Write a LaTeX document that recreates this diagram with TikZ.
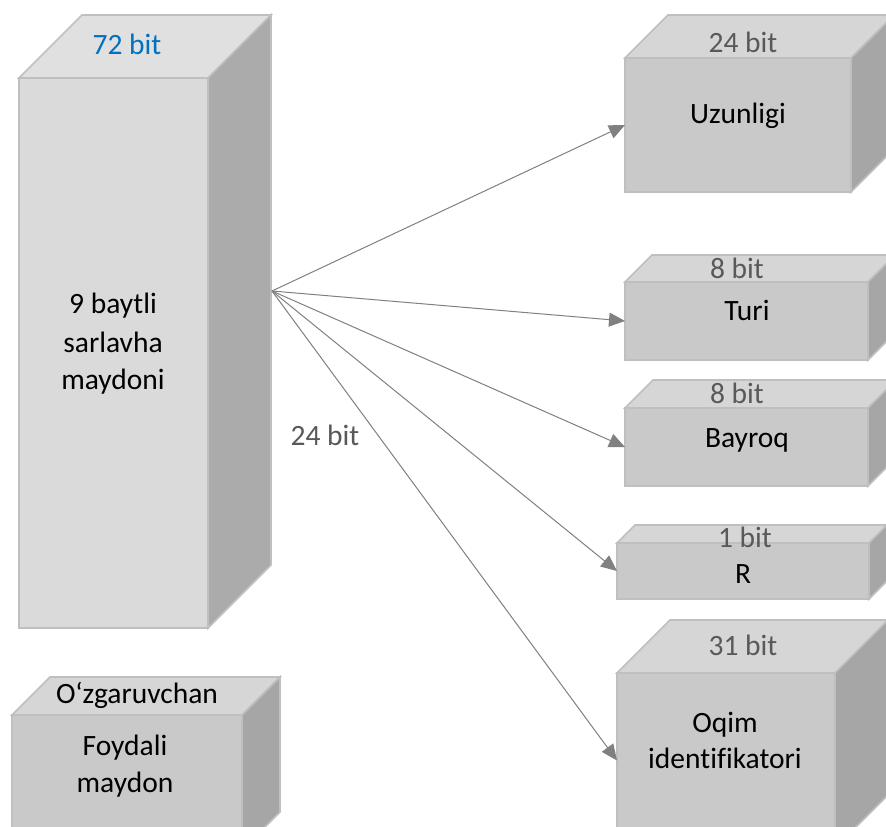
\documentclass[tikz,border=0pt]{standalone}
\usepackage{fontspec}
\setmainfont{Carlito}[Ligatures={NoCommon}]
\usetikzlibrary{arrows.meta}
\definecolor{edgec}{HTML}{BFBFBF}
\definecolor{bigfront}{HTML}{DADADA}
\definecolor{bigtop}{HTML}{E0E0E0}
\definecolor{bigside}{HTML}{ABABAB}
\definecolor{smfront}{HTML}{C9C9C9}
\definecolor{smtop}{HTML}{D6D6D6}
\definecolor{smside}{HTML}{A6A6A6}
\definecolor{bitgray}{HTML}{595959}
\definecolor{bitblue}{HTML}{0070C0}
\definecolor{arrowc}{HTML}{808080}
\tikzset{
  edge/.style={draw=edgec, line width=1.6pt, line join=miter},
  txt/.style={anchor=base, inner sep=0pt, font=\fontsize{29.5}{34}\selectfont, text=black},
  bitlbl/.style={txt, text=bitgray},
  conn/.style={draw=arrowc, line width=1pt, -{Triangle[length=16pt,width=14pt]}}
}
% name, x1, y1, x2, y2, depth, front, top, side
\newcommand\mycube[9]{%
  \path[edge, fill=#8] (#2,#3) -- ({#2+#6},{#3-#6}) -- ({#4+#6},{#3-#6}) -- (#4,#3) -- cycle;
  \path[edge, fill=#9] (#4,#3) -- ({#4+#6},{#3-#6}) -- ({#4+#6},{#5-#6}) -- (#4,#5) -- cycle;
  \node[edge, fill=#7, anchor=north west, inner sep=0pt, outer sep=0pt,
        minimum width={#4-#2}, minimum height={#5-#3}] (#1) at (#2,#3) {};
}
\begin{document}
\begin{tikzpicture}[x=1pt,y=-1pt]
\path[use as bounding box] (0,0) rectangle (886,827);
\clip (0,0) rectangle (886,827);
\fill[white] (0,0) rectangle (886,827);

\mycube{big}{19}{78}{208}{628}{63}{bigfront}{bigtop}{bigside}
\mycube{uz}{625}{58}{851}{192}{43}{smfront}{smtop}{smside}
\mycube{turi}{625}{282}{868}{360}{27}{smfront}{smtop}{smside}
\mycube{bay}{625}{408}{868}{486}{28}{smfront}{smtop}{smside}
\mycube{r}{617}{543}{869}{599}{18}{smfront}{smtop}{smside}
\mycube{oqim}{617}{673}{835}{848}{53}{smfront}{smtop}{smside}
\mycube{foy}{12}{715}{242}{850}{38}{smfront}{smtop}{smside}

% texts
\node[txt, text=bitblue] (t72) at (127,54) {72 bit};
\node[txt] (tb1) at (113,313) {9 baytli};
\node[txt] (tb2) at (113,352) {sarlavha};
\node[txt] (tb3) at (113,389) {maydoni};
\node[bitlbl] (t24a) at (325,445) {24 bit};

\node[bitlbl] (t24) at (743,52) {24 bit};
\node[txt] (tuz) at (738,123) {Uzunligi};
\node[bitlbl] (t8a) at (737,278) {8 bit};
\node[txt] (tturi) at (747,320) {Turi};
\node[bitlbl] (t8b) at (737,403) {8 bit};
\node[txt] (tbay) at (747,447) {Bayroq};
\node[bitlbl] (t1) at (745,547) {1 bit};
\node[txt] (tr) at (743,583) {R};
\node[bitlbl] (t31) at (743,655) {31 bit};
\node[txt] (toq1) at (725,732) {Oqim};
\node[txt] (toq2) at (725,768) {identifikatori};
\node[txt] (tozg) at (137,703) {O‘zgaruvchan};
\node[txt] (tfoy1) at (125,755) {Foydali};
\node[txt] (tfoy2) at (125,792) {maydon};

% connectors
\coordinate (src) at (272,291);
\draw[conn] (src) -- (uz.west);
\draw[conn] (src) -- (turi.west);
\draw[conn] (src) -- (bay.west);
\draw[conn] (src) -- (r.west);
\draw[conn] (src) -- (oqim.west);
\end{tikzpicture}
\end{document}
